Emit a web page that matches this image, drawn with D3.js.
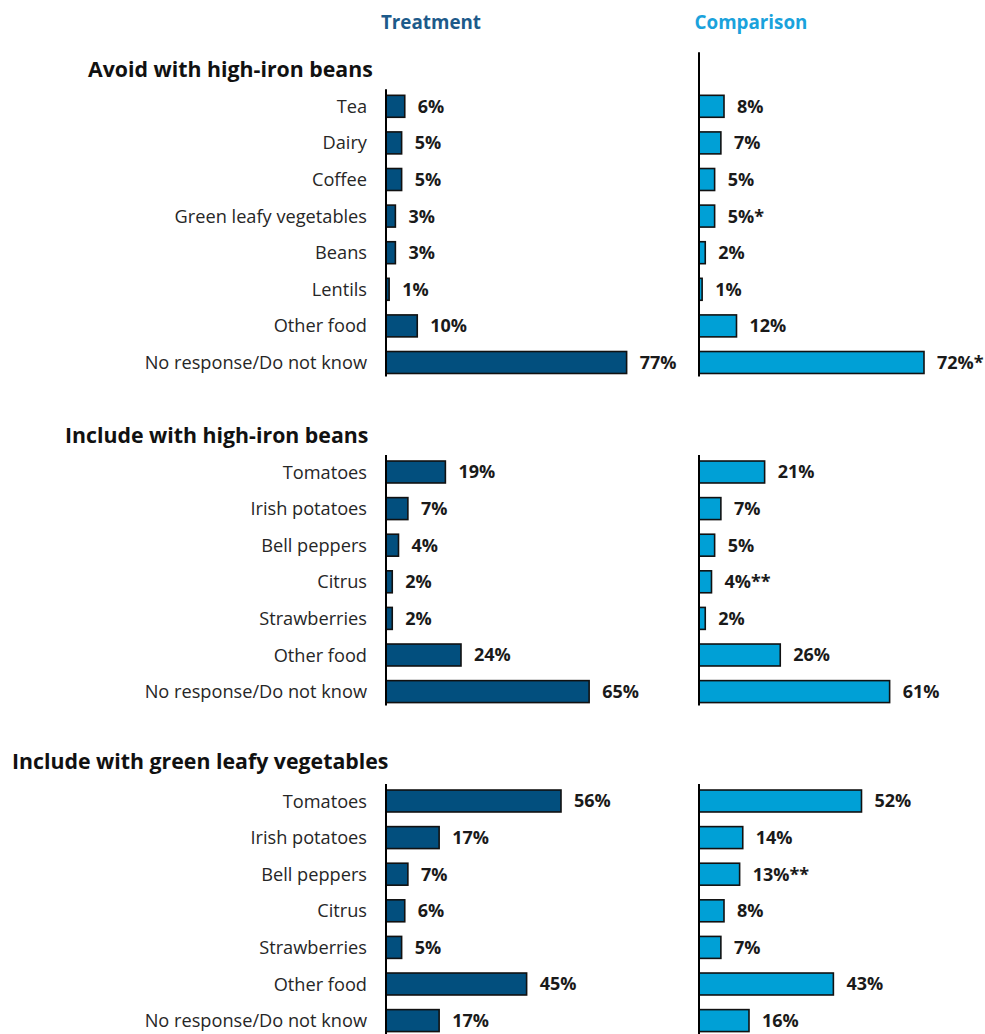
<!DOCTYPE html>
<html>
<head>
<meta charset="utf-8">
<script src="https://cdn.jsdelivr.net/npm/d3@7"></script>
<style>
  html, body { margin: 0; padding: 0; background: #fff; }
  svg { display: block; font-family: "Open Sans", "Noto Sans", sans-serif; }
</style>
</head>
<body>
<svg id="chart" width="985" height="1034"></svg>
<script>
// Groups and the foods listed under each
const sectionTitles = [
  "Avoid with high-iron beans",
  "Include with high-iron beans",
  "Include with green leafy vegetables"
];
const avoidFoods = ["Tea", "Dairy", "Coffee", "Green leafy vegetables", "Beans", "Lentils", "Other food", "No response/Do not know"];
const includeBeansFoods = ["Tomatoes", "Irish potatoes", "Bell peppers", "Citrus", "Strawberries", "Other food", "No response/Do not know"];
const includeGreensFoods = ["Tomatoes", "Irish potatoes", "Bell peppers", "Citrus", "Strawberries", "Other food", "No response/Do not know"];

// Percent of respondents, by group
const avoidTreatment = [6, 5, 5, 3, 3, 1, 10, 77];
const avoidComparison = [8, 7, 5, 5, 2, 1, 12, 72];
const avoidComparisonSig = ["", "", "", "*", "", "", "", "*"];

const includeBeansTreatment = [19, 7, 4, 2, 2, 24, 65];
const includeBeansComparison = [21, 7, 5, 4, 2, 26, 61];
const includeBeansComparisonSig = ["", "", "", "**", "", "", ""];

const includeGreensTreatment = [56, 17, 7, 6, 5, 45, 17];
const includeGreensComparison = [52, 14, 13, 8, 7, 43, 16];
const includeGreensComparisonSig = ["", "", "**", "", "", "", ""];

const groupNames = ["Treatment", "Comparison"];

// ---- layout ----
const svg = d3.select("#chart");
const colors = { Treatment: "#024f7e", Comparison: "#00a0d6" };
const headerColors = { Treatment: "#1d5a8a", Comparison: "#1aa2dc" };
const panelX = { Treatment: 386, Comparison: 699 };
const pxPerPct = 3.125;
const step = 36.6;

const sections = [
  { title: sectionTitles[0], titleX: 88, titleY: 77, cats: avoidFoods,
    t: avoidTreatment, c: avoidComparison, sig: avoidComparisonSig, top: 88, extraTopC: 37 },
  { title: sectionTitles[1], titleX: 65, titleY: 443, cats: includeBeansFoods,
    t: includeBeansTreatment, c: includeBeansComparison, sig: includeBeansComparisonSig, top: 453.7, extraTopC: 0 },
  { title: sectionTitles[2], titleX: 12, titleY: 769, cats: includeGreensFoods,
    t: includeGreensTreatment, c: includeGreensComparison, sig: includeGreensComparisonSig, top: 782.7, extraTopC: 0 }
];

// column headers
groupNames.forEach(g => {
  svg.append("text")
    .attr("x", g === "Treatment" ? 431 : 751)
    .attr("y", 29)
    .attr("text-anchor", "middle")
    .attr("font-size", 18.8)
    .attr("font-weight", 700)
    .attr("fill", headerColors[g])
    .text(g);
});

sections.forEach(sec => {
  const n = sec.cats.length;
  const keys = sec.cats.map((d, i) => i);
  const y = d3.scaleBand()
    .domain(keys)
    .range([sec.top, sec.top + n * step])
    .paddingInner(0.4)
    .paddingOuter(0.2);

  // section title
  svg.append("text")
    .attr("x", sec.titleX)
    .attr("y", sec.titleY)
    .attr("font-size", 21.3)
    .attr("font-weight", 700)
    .attr("fill", "#111")
    .text(sec.title);

  // category labels
  svg.append("g").selectAll("text")
    .data(sec.cats)
    .join("text")
    .attr("x", 367)
    .attr("y", (d, i) => y(i) + y.bandwidth() / 2)
    .attr("dy", "0.36em")
    .attr("text-anchor", "end")
    .attr("font-size", 18.2)
    .attr("fill", "#262626")
    .text(d => d);

  groupNames.forEach(g => {
    const vals = g === "Treatment" ? sec.t : sec.c;
    const sig = g === "Treatment" ? vals.map(() => "") : sec.sig;
    const x = d3.scaleLinear().domain([0, 100]).range([panelX[g], panelX[g] + 100 * pxPerPct]);
    const panel = svg.append("g");

    panel.selectAll("rect")
      .data(vals)
      .join("rect")
      .attr("x", x(0))
      .attr("y", (d, i) => y(i))
      .attr("width", d => x(d) - x(0))
      .attr("height", y.bandwidth())
      .attr("fill", colors[g])
      .attr("stroke", "#111")
      .attr("stroke-width", 1.6);

    panel.selectAll("text")
      .data(vals)
      .join("text")
      .attr("x", d => x(d) + 13)
      .attr("y", (d, i) => y(i) + y.bandwidth() / 2)
      .attr("dy", "0.36em")
      .attr("font-size", 18)
      .attr("font-weight", 700)
      .attr("fill", "#1a1a1a")
      .text((d, i) => d + "%" + sig[i]);

    // category axis line
    const extra = g === "Comparison" ? sec.extraTopC : 0;
    panel.append("line")
      .attr("x1", x(0)).attr("x2", x(0))
      .attr("y1", y(0) - 6 - extra)
      .attr("y2", y(n - 1) + y.bandwidth() + 3)
      .attr("stroke", "#000")
      .attr("stroke-width", 2);
  });
});
</script>
</body>
</html>
